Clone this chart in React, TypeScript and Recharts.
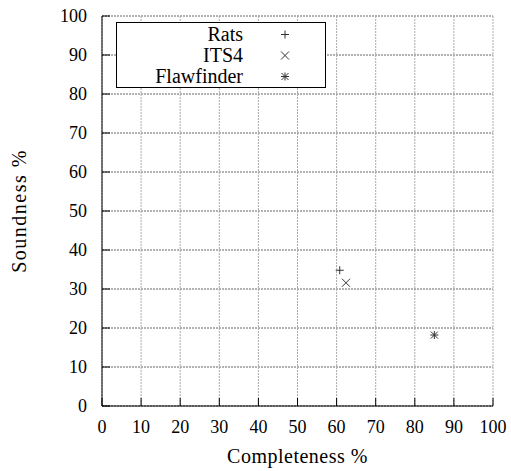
import React from 'react';
import {
  ScatterChart,
  Scatter,
  XAxis,
  YAxis,
  CartesianGrid,
  Legend,
  Label,
} from 'recharts';

const TICKS = [0, 10, 20, 30, 40, 50, 60, 70, 80, 90, 100];

const RATS = [{ x: 60.8, y: 34.8 }];
const ITS4 = [{ x: 62.4, y: 31.6 }];
const FLAWFINDER = [{ x: 85.0, y: 18.2 }];

const SERIES_NAMES = ['Rats', 'ITS4', 'Flawfinder'];

const FONT = '"Liberation Serif", serif';
const MARK = '#333';
const TICK_LEN = 8;

// marqueurs façon gnuplot : +, x, *
const Plus = ({ cx, cy }: any) => (
  <g stroke={MARK} strokeWidth={1}>
    <line x1={cx - 4} y1={cy} x2={cx + 4} y2={cy} />
    <line x1={cx} y1={cy - 4} x2={cx} y2={cy + 4} />
  </g>
);

const Cross = ({ cx, cy }: any) => (
  <g stroke={MARK} strokeWidth={1}>
    <line x1={cx - 4} y1={cy - 4} x2={cx + 4} y2={cy + 4} />
    <line x1={cx - 4} y1={cy + 4} x2={cx + 4} y2={cy - 4} />
  </g>
);

const Star = ({ cx, cy }: any) => (
  <g stroke={MARK} strokeWidth={1}>
    <line x1={cx - 4} y1={cy} x2={cx + 4} y2={cy} />
    <line x1={cx} y1={cy - 4} x2={cx} y2={cy + 4} />
    <line x1={cx - 3.5} y1={cy - 3.5} x2={cx + 3.5} y2={cy + 3.5} />
    <line x1={cx - 3.5} y1={cy + 3.5} x2={cx + 3.5} y2={cy - 3.5} />
  </g>
);

const SHAPES = [Plus, Cross, Star];

const BottomTick = ({ x, y, payload }: any) => (
  <g>
    <line x1={x} y1={y} x2={x} y2={y - TICK_LEN} stroke="#000" />
    <text x={x} y={y + 27} textAnchor="middle" style={{ fontFamily: FONT }} fontSize={18} fill="#000">
      {payload.value}
    </text>
  </g>
);

const TopTick = ({ x, y }: any) => <line x1={x} y1={y} x2={x} y2={y + TICK_LEN} stroke="#000" />;

const LeftTick = ({ x, y, payload }: any) => (
  <g>
    <line x1={x} y1={y} x2={x + TICK_LEN} y2={y} stroke="#000" />
    <text x={x - 15} y={y} textAnchor="end" dominantBaseline="central" style={{ fontFamily: FONT }} fontSize={18} fill="#000">
      {payload.value}
    </text>
  </g>
);

const RightTick = ({ x, y }: any) => <line x1={x} y1={y} x2={x - TICK_LEN} y2={y} stroke="#000" />;

const YTitle = ({ viewBox }: any) => {
  const cx = 19;
  const cy = viewBox.y + viewBox.height / 2;
  return (
    <text
      x={cx}
      y={cy}
      transform={`rotate(-90 ${cx} ${cy})`}
      textAnchor="middle"
      dominantBaseline="central"
      style={{ fontFamily: FONT, letterSpacing: 1.5 }}
      fontSize={20}
      fill="#000"
    >
      Soundness %
    </text>
  );
};

const XTitle = ({ viewBox }: any) => (
  <text
    x={viewBox.x + viewBox.width / 2}
    y={463}
    textAnchor="middle"
    style={{ fontFamily: FONT, letterSpacing: 0.5 }}
    fontSize={20}
    fill="#000"
  >
    Completeness %
  </text>
);

const LegendBox = () => (
  <div
    style={{
      width: 208,
      height: 63,
      border: '1px solid #000',
      background: '#fff',
      fontFamily: FONT,
      fontSize: 20,
      paddingTop: 1,
      color: '#000',
    }}
  >
    {SERIES_NAMES.map((name, i) => {
      const Shape = SHAPES[i];
      return (
        <div key={name} style={{ display: 'flex', alignItems: 'center', height: 21 }}>
          <span style={{ width: 126, textAlign: 'right', lineHeight: '21px' }}>{name}</span>
          <svg width={82} height={21}>
            <Shape cx={42} cy={10.5} />
          </svg>
        </div>
      );
    })}
  </div>
);

export default function App() {
  return (
    <div style={{ position: 'absolute', left: 0, top: 0, width: 511, height: 471, background: '#fff' }}>
      <ScatterChart width={511} height={471} margin={{ top: 16, right: 18, bottom: 0, left: 0 }}>
        <CartesianGrid vertical={false} stroke="#666" strokeDasharray="2 1" />
        <CartesianGrid horizontal={false} stroke="#aaa" strokeDasharray="2 1" />
        <XAxis
          type="number"
          dataKey="x"
          domain={[0, 100]}
          ticks={TICKS}
          height={65}
          tickSize={0}
          tickMargin={0}
          tickLine={false}
          axisLine={{ stroke: '#000' }}
          tick={<BottomTick />}
          interval={0}
        >
          <Label content={<XTitle />} />
        </XAxis>
        <XAxis
          xAxisId="top"
          orientation="top"
          type="number"
          domain={[0, 100]}
          ticks={TICKS}
          height={0}
          tickSize={0}
          tickMargin={0}
          tickLine={false}
          axisLine={{ stroke: '#000' }}
          tick={<TopTick />}
          interval={0}
        />
        <YAxis
          type="number"
          dataKey="y"
          domain={[0, 100]}
          ticks={TICKS}
          width={102}
          tickSize={0}
          tickMargin={0}
          tickLine={false}
          axisLine={{ stroke: '#000' }}
          tick={<LeftTick />}
          interval={0}
        >
          <Label content={<YTitle />} />
        </YAxis>
        <YAxis
          yAxisId="right"
          orientation="right"
          type="number"
          domain={[0, 100]}
          ticks={TICKS}
          width={0}
          tickSize={0}
          tickMargin={0}
          tickLine={false}
          axisLine={{ stroke: '#000' }}
          tick={<RightTick />}
          interval={0}
        />
        <Legend
          layout="horizontal"
          align="center"
          verticalAlign="middle"
          content={<LegendBox />}
          wrapperStyle={{ position: 'absolute', left: 116, top: 22, width: 'auto' }}
        />
        <Scatter name="Rats" data={RATS} shape={<Plus />} isAnimationActive={false} />
        <Scatter name="ITS4" data={ITS4} shape={<Cross />} isAnimationActive={false} />
        <Scatter name="Flawfinder" data={FLAWFINDER} shape={<Star />} isAnimationActive={false} />
      </ScatterChart>
    </div>
  );
}
